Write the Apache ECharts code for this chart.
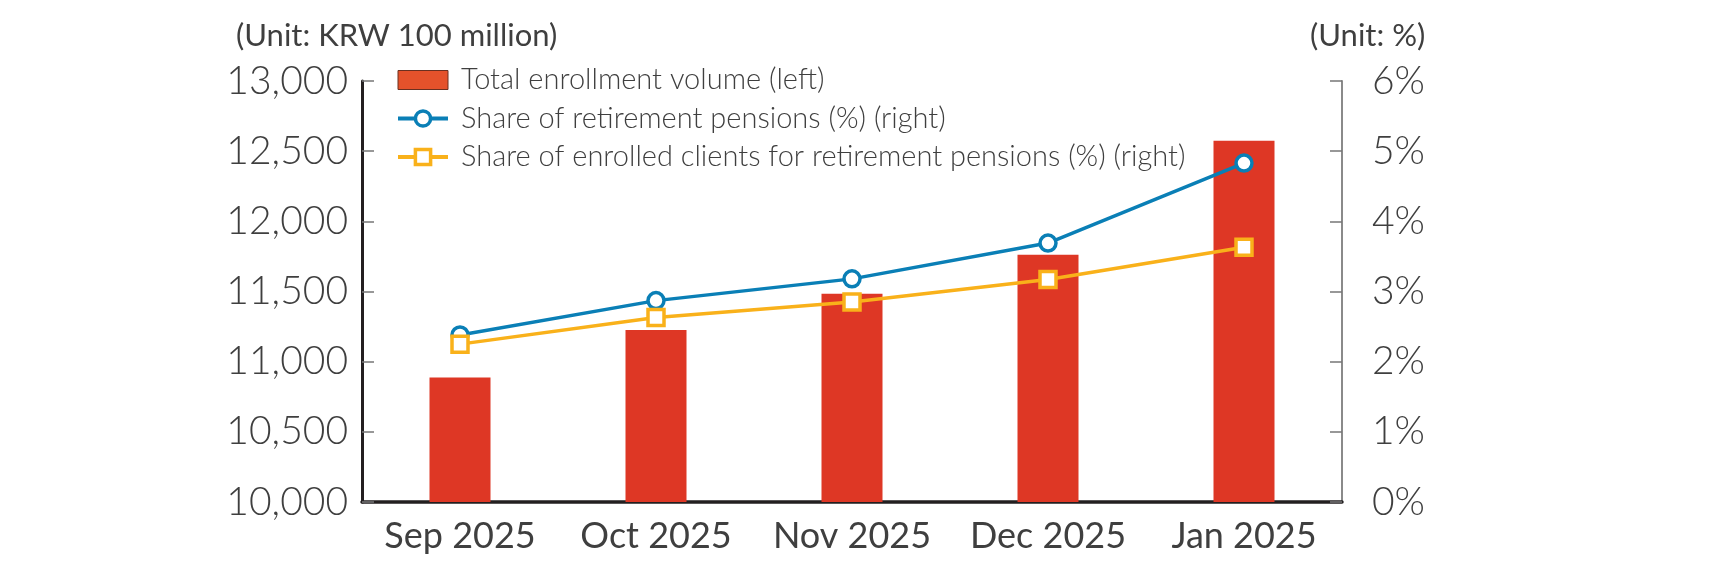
<!DOCTYPE html>
<html>
<head>
<meta charset="utf-8">
<script src="https://cdn.jsdelivr.net/npm/echarts@6/dist/echarts.min.js"></script>
<style>
html,body{margin:0;padding:0;background:#fff;}
#chart{width:1709px;height:575px;}
</style>
</head>
<body>
<div id="chart"></div>
<script>
const categories = ['Sep 2025', 'Oct 2025', 'Nov 2025', 'Dec 2025', 'Jan 2025'];
const enrollmentVolume = [10887, 11225, 11484, 11762, 12575];
const sharePensions = [2.38, 2.87, 3.18, 3.69, 4.83];
const shareClients = [2.25, 2.63, 2.85, 3.17, 3.63];
const leftTicks = { min: 10000, max: 13000, interval: 500 };
const rightTicks = { min: 0, max: 6, interval: 1 };

const FONT = 'Lato';
const TXT = '#3f3f3f';
const BAR = '#de3725';
const BLUE = '#0a7fb6';
const GOLD = '#f9b11a';

const chart = echarts.init(document.getElementById('chart'));
chart.setOption({
  animation: false,
  textStyle: { fontFamily: FONT },
  title: [
    { text: '(Unit: KRW 100 million)', left: 231, top: 15,
      textStyle: { fontSize: 31, fontWeight: 400, color: TXT, fontFamily: FONT } },
    { text: '(Unit: %)', left: 1305, top: 15,
      textStyle: { fontSize: 31, fontWeight: 400, color: TXT, fontFamily: FONT } }
  ],
  legend: {
    orient: 'vertical', left: 391, top: 60, itemGap: 8.5,
    itemWidth: 50, itemHeight: 19,
    textStyle: { fontSize: 29, fontWeight: 300, color: TXT, fontFamily: FONT, lineHeight: 30, padding: [0, 0, 0, 8] },
    data: [
      { name: 'Total enrollment volume (left)', icon: 'rect',
        itemStyle: { color: '#e5522b', borderColor: '#6b3020', borderWidth: 1 } },
      { name: 'Share of retirement pensions (%) (right)',
        lineStyle: { width: 4 }, itemStyle: { borderWidth: 3.5 } },
      { name: 'Share of enrolled clients for retirement pensions (%) (right)',
        lineStyle: { width: 4 }, itemStyle: { borderWidth: 3.5 } }
    ]
  },
  grid: { left: 362, right: 367, top: 81, bottom: 73 },
  xAxis: {
    type: 'category', data: categories,
    axisLine: { lineStyle: { color: '#231f20', width: 3.5 } },
    axisTick: { show: false },
    axisLabel: { fontSize: 36, color: TXT, fontFamily: FONT, margin: 16, interval: 0 }
  },
  yAxis: [
    { type: 'value', min: leftTicks.min, max: leftTicks.max, interval: leftTicks.interval,
      splitLine: { show: false },
      axisLine: { show: true, lineStyle: { color: '#231f20', width: 3 } },
      axisTick: { show: true, inside: true, length: 12, lineStyle: { color: '#777', width: 1.5 } },
      axisLabel: { fontSize: 39, fontWeight: 300, color: TXT, fontFamily: FONT, margin: 14,
        formatter: v => v.toLocaleString('en-US') } },
    { type: 'value', min: rightTicks.min, max: rightTicks.max, interval: rightTicks.interval,
      position: 'right',
      splitLine: { show: false },
      axisLine: { show: true, lineStyle: { color: '#8a8a8a', width: 2 } },
      axisTick: { show: true, inside: true, length: 12, lineStyle: { color: '#777', width: 1.5 } },
      axisLabel: { fontSize: 39, fontWeight: 300, color: TXT, fontFamily: FONT, margin: 30,
        formatter: '{value}%' } }
  ],
  series: [
    { name: 'Total enrollment volume (left)', type: 'bar', data: enrollmentVolume,
      barWidth: 61, itemStyle: { color: BAR }, yAxisIndex: 0 },
    { name: 'Share of retirement pensions (%) (right)', type: 'line', data: sharePensions,
      yAxisIndex: 1, symbol: 'circle', symbolSize: 16, z: 5,
      lineStyle: { color: BLUE, width: 3.5 },
      itemStyle: { color: '#fff', borderColor: BLUE, borderWidth: 3.5 } },
    { name: 'Share of enrolled clients for retirement pensions (%) (right)', type: 'line', data: shareClients,
      yAxisIndex: 1, symbol: 'rect', symbolSize: 16, z: 6,
      lineStyle: { color: GOLD, width: 3.5 },
      itemStyle: { color: '#fff', borderColor: GOLD, borderWidth: 3.5 } }
  ]
});
</script>
</body>
</html>
